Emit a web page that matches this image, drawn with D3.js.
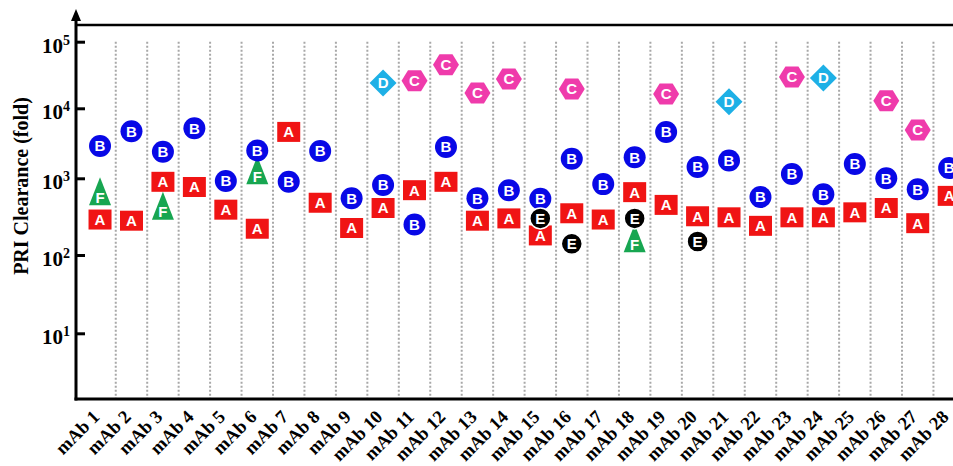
<!DOCTYPE html>
<html>
<head>
<meta charset="utf-8">
<script src="https://cdn.jsdelivr.net/npm/d3@7"></script>
<style>
  html, body { margin: 0; padding: 0; background: #fff; overflow: hidden; }
  svg { display: block; }
</style>
</head>
<body>
<script>
const categories = ["mAb 1","mAb 2","mAb 3","mAb 4","mAb 5","mAb 6","mAb 7","mAb 8","mAb 9","mAb 10",
  "mAb 11","mAb 12","mAb 13","mAb 14","mAb 15","mAb 16","mAb 17","mAb 18","mAb 19","mAb 20",
  "mAb 21","mAb 22","mAb 23","mAb 24","mAb 25","mAb 26","mAb 27","mAb 28"];

const seriesA = [290,280,900,770,390,220,4600,480,225,410,700,900,280,300,180,350,290,660,450,320,310,240,310,310,360,410,260,590];
const seriesB = [2900,4700,2400,5200,920,2500,900,2450,550,820,250,2800,550,700,540,1900,840,2000,4600,1450,1800,570,1150,620,1600,1000,720,1400];
const seriesC = [null,null,null,null,null,null,null,null,null,null,26000,45000,17000,27500,null,19500,null,null,16400,null,null,null,29500,null,null,13000,4900,null];
const seriesD = [null,null,null,null,null,null,null,null,null,24000,null,null,null,null,null,null,null,null,null,null,12500,null,null,28500,null,null,null,null];
const seriesE = [null,null,null,null,null,null,null,null,null,null,null,null,null,null,300,140,null,300,null,150,null,null,null,null,null,null,null,null];
const seriesF = [680,null,440,null,null,1300,null,null,null,null,null,null,null,null,null,null,null,165,null,null,null,null,null,null,null,null,null,null];

const yTicks = [10, 100, 1000, 10000, 100000];
const yTickExp = ["1","2","3","4","5"];
const yTitle = "PRI Clearance (fold)";

const W = 953, H = 466;
const axisX = 76, bottomY = 399, topY = 25;

const svg = d3.select("body").append("svg").attr("width", W).attr("height", H);

const x = d3.scaleBand().domain(categories).range([84.3, 84.3 + 28 * 31.45]).padding(0);
const cx = d => x(d) + x.bandwidth() / 2;
const y = d3.scaleLog().domain(yTicks).range([333.3, 255, 178.3, 108.3, 41.7]);

// dotted separators
svg.append("g").selectAll("line").data(categories.slice(1)).join("line")
  .attr("x1", d => x(d)).attr("x2", d => x(d))
  .attr("y1", y(100000)).attr("y2", bottomY)
  .attr("stroke", "#a8a8a8").attr("stroke-width", 2).attr("stroke-dasharray", "2,2");

// frame lines
svg.append("line").attr("x1", axisX).attr("x2", W).attr("y1", topY).attr("y2", topY)
  .attr("stroke", "#000").attr("stroke-width", 2.5);
svg.append("line").attr("x1", axisX - 1.5).attr("x2", W).attr("y1", bottomY).attr("y2", bottomY)
  .attr("stroke", "#000").attr("stroke-width", 3);
svg.append("line").attr("x1", axisX).attr("x2", axisX).attr("y1", bottomY + 1.5).attr("y2", 18)
  .attr("stroke", "#000").attr("stroke-width", 3);
svg.append("path").attr("d", `M${axisX},9 L${axisX - 5},21 L${axisX + 5},21 Z`).attr("fill", "#000");

// y ticks (inward)
const yAxis = d3.axisRight(y).tickValues(yTicks).tickSize(9).tickFormat("");
const gy = svg.append("g").attr("transform", `translate(${axisX},0)`).call(yAxis);
gy.select(".domain").remove();
gy.selectAll(".tick line").attr("stroke", "#000").attr("stroke-width", 3);

// y tick labels
const lab = svg.append("g").selectAll("text").data(yTicks).join("text")
  .attr("x", 70).attr("y", d => y(d) + 11)
  .attr("text-anchor", "end")
  .attr("font-family", "'Liberation Serif','Times New Roman',serif")
  .attr("font-weight", "bold").attr("font-size", 21);
lab.append("tspan").text("10");
lab.append("tspan").attr("dy", -8).attr("font-size", 14).text((d, i) => yTickExp[i]);

// y title
svg.append("text")
  .attr("transform", "translate(28,186) rotate(-90)")
  .attr("text-anchor", "middle")
  .attr("font-family", "'Liberation Serif','Times New Roman',serif")
  .attr("font-weight", "bold").attr("font-size", 20)
  .text(yTitle);

// x labels
svg.append("g").selectAll("text").data(categories).join("text")
  .attr("transform", d => `translate(${cx(d) + 0.5},418) rotate(-45)`)
  .attr("text-anchor", "end")
  .attr("font-family", "'Liberation Serif','Times New Roman',serif")
  .attr("font-weight", "bold").attr("font-size", 18.5)
  .text(d => d);

// markers
const shapes = {
  A: { color: "#f01414", path: "M-11.5,-10 H11.5 V10 H-11.5 Z", ty: 0 },
  F: { color: "#17a651", path: "M0,-14 L11,14 L-11,14 Z", ty: 6 },
  B: { color: "#0808e6", path: d3.arc()({innerRadius:0, outerRadius:11, startAngle:0, endAngle:2*Math.PI}), ty: 0 },
  C: { color: "#ef3bab", path: "M-13,0 L-6.5,-10.5 L6.5,-10.5 L13,0 L6.5,10.5 L-6.5,10.5 Z", ty: 0 },
  D: { color: "#1eb0e6", path: "M0,-13.5 L13.5,0 L0,13.5 L-13.5,0 Z", ty: 0 },
  E: { color: "#000000", path: d3.arc()({innerRadius:0, outerRadius:10.5, startAngle:0, endAngle:2*Math.PI}), ty: 0, stroke: "#fff" }
};
const order = [["A", seriesA], ["F", seriesF], ["B", seriesB], ["C", seriesC], ["D", seriesD], ["E", seriesE]];

order.forEach(([key, vals]) => {
  const s = shapes[key];
  const pts = categories.map((c, i) => ({c, v: vals[i]})).filter(p => p.v != null);
  const g = svg.append("g").selectAll("g").data(pts).join("g")
    .attr("transform", p => `translate(${cx(p.c)},${y(p.v)})`);
  g.append("path").attr("d", s.path).attr("fill", s.color)
    .attr("stroke", s.stroke || "none").attr("stroke-width", 1.5);
  g.append("text").attr("y", s.ty).attr("dy", "0.36em")
    .attr("text-anchor", "middle")
    .attr("font-family", "'Liberation Sans',Arial,sans-serif")
    .attr("font-weight", "bold").attr("font-size", 15)
    .attr("fill", "#fff").text(key);
});
</script>
</body>
</html>
